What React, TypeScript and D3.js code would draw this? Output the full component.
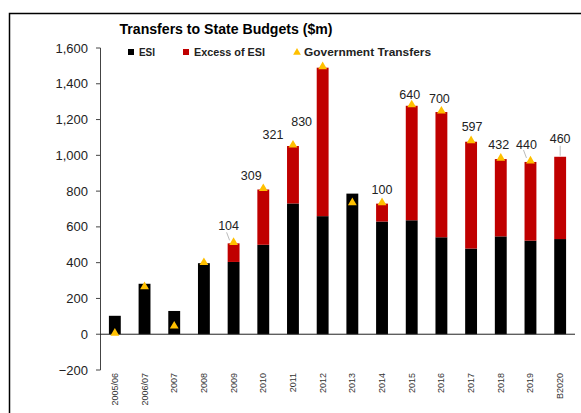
import React from 'react';
import * as d3 from 'd3';

const categories = ['2005/06', '2006/07', '2007', '2008', '2009', '2010', '2011', '2012', '2013', '2014', '2015', '2016', '2017', '2018', '2019', 'B2020'];
const esi = [103, 282, 130, 397, 404, 500, 731, 660, 786, 630, 637, 542, 479, 547, 523, 532];
const excess = [0, 0, 0, 0, 104, 309, 321, 830, 0, 100, 640, 700, 597, 432, 440, 460];
const govTransfers = [0, 260, 40, 395, 508, 809, 1052, 1490, 730, 730, 1277, 1242, 1076, 979, 963, null];
const yTicks = [-200, 0, 200, 400, 600, 800, 1000, 1200, 1400, 1600];

// label nudges (px) relative to top of the stack
const labelOffset = [
  null, null, null, null, [-5, -18], [-12, -14], [-20, -11], [-21, 54], null, [0, -14],
  [-2, -11], [-2, -13], [1, -15], [-2, -14], [-4, -17], [0, -18],
];
const leaders: Record<number, [number, number, number, number]> = {
  4: [-2, 7, 1, 15],
  14: [-3, 5, 0, 13],
  15: [0, 7, 0, 17],
};

const W = 581;
const H = 413;

export default function App() {
  const x = d3.scaleBand<string>().domain(categories).range([100, 575]).paddingInner(0.6).paddingOuter(0.3);
  const y = d3.scaleLinear().domain([-200, 1600]).range([370, 48]);
  const tri = d3.symbol().type(d3.symbolTriangle).size(34)();
  const legTri = d3.symbol().type(d3.symbolTriangle).size(26)();
  const fmt = d3.format(',');

  return (
    <svg width={W} height={H} style={{ position: 'absolute', left: 0, top: 0, background: '#fff' }}
      fontFamily="'Liberation Sans', Arial, sans-serif">
      <rect x={9.5} y={13.5} width={W} height={H} fill="none" stroke="#000" strokeWidth={1.5} />

      <text x={226} y={34} textAnchor="middle" fontSize={14} fontWeight="bold" textLength={213} lengthAdjust="spacingAndGlyphs">
        Transfers to State Budgets ($m)
      </text>

      {/* legend */}
      <g fontSize={11} fontWeight="bold" fill="#222">
        <rect x={128} y={49} width={6} height={6} fill="#000" />
        <text x={139} y={56} textLength={16} lengthAdjust="spacingAndGlyphs">ESI</text>
        <rect x={183} y={49} width={6} height={6} fill="#c00000" />
        <text x={194} y={56} textLength={71} lengthAdjust="spacingAndGlyphs">Excess of ESI</text>
        <path d={legTri} transform="translate(297,52.5)" fill="#ffc000" />
        <text x={304} y={56} textLength={127} lengthAdjust="spacingAndGlyphs">Government Transfers</text>
      </g>

      {/* y axis */}
      <line x1={100.5} x2={100.5} y1={y(1600)} y2={y(-200)} stroke="#444" />
      {yTicks.map((t) => (
        <g key={t}>
          <line x1={96} x2={100.5} y1={y(t)} y2={y(t)} stroke="#444" />
          <text x={88} y={y(t)} dy="0.35em" textAnchor="end" fontSize={13} fill="#222">{fmt(t)}</text>
        </g>
      ))}

      {/* bars */}
      {categories.map((c, i) => (
        <g key={c}>
          <rect x={x(c)} width={x.bandwidth()} y={y(esi[i])} height={y(0) - y(esi[i])} fill="#000" />
          {excess[i] > 0 && (
            <rect x={x(c)} width={x.bandwidth()} y={y(esi[i] + excess[i])} height={y(esi[i]) - y(esi[i] + excess[i])} fill="#c00000" />
          )}
        </g>
      ))}

      <line x1={100} x2={575} y1={y(0)} y2={y(0)} stroke="#222" />

      {/* government transfers */}
      {categories.map((c, i) => govTransfers[i] == null ? null : (
        <path key={c} d={tri} fill="#ffc000"
          transform={`translate(${x(c)! + x.bandwidth() / 2},${y(govTransfers[i]!) - 1})`} />
      ))}

      {/* excess labels */}
      {categories.map((c, i) => {
        const off = labelOffset[i];
        if (!off) return null;
        const cx = x(c)! + x.bandwidth() / 2;
        const top = y(esi[i] + excess[i]);
        const lx = cx + off[0];
        const ly = top + off[1];
        const ld = leaders[i];
        return (
          <g key={c}>
            {ld && <line x1={lx + ld[0]} y1={ly + ld[1]} x2={lx + ld[2]} y2={ly + ld[3]} stroke="#bbb" />}
            <text x={lx} y={ly} dy="0.35em" textAnchor="middle" fontSize={12.5} fill="#222">{excess[i]}</text>
          </g>
        );
      })}

      {/* x labels */}
      {categories.map((c) => {
        const cx = x(c)! + x.bandwidth() / 2;
        return (
          <text key={c} transform={`translate(${cx + 3},373) rotate(-90)`} textAnchor="end" fontSize={9} fill="#333">{c}</text>
        );
      })}
    </svg>
  );
}
